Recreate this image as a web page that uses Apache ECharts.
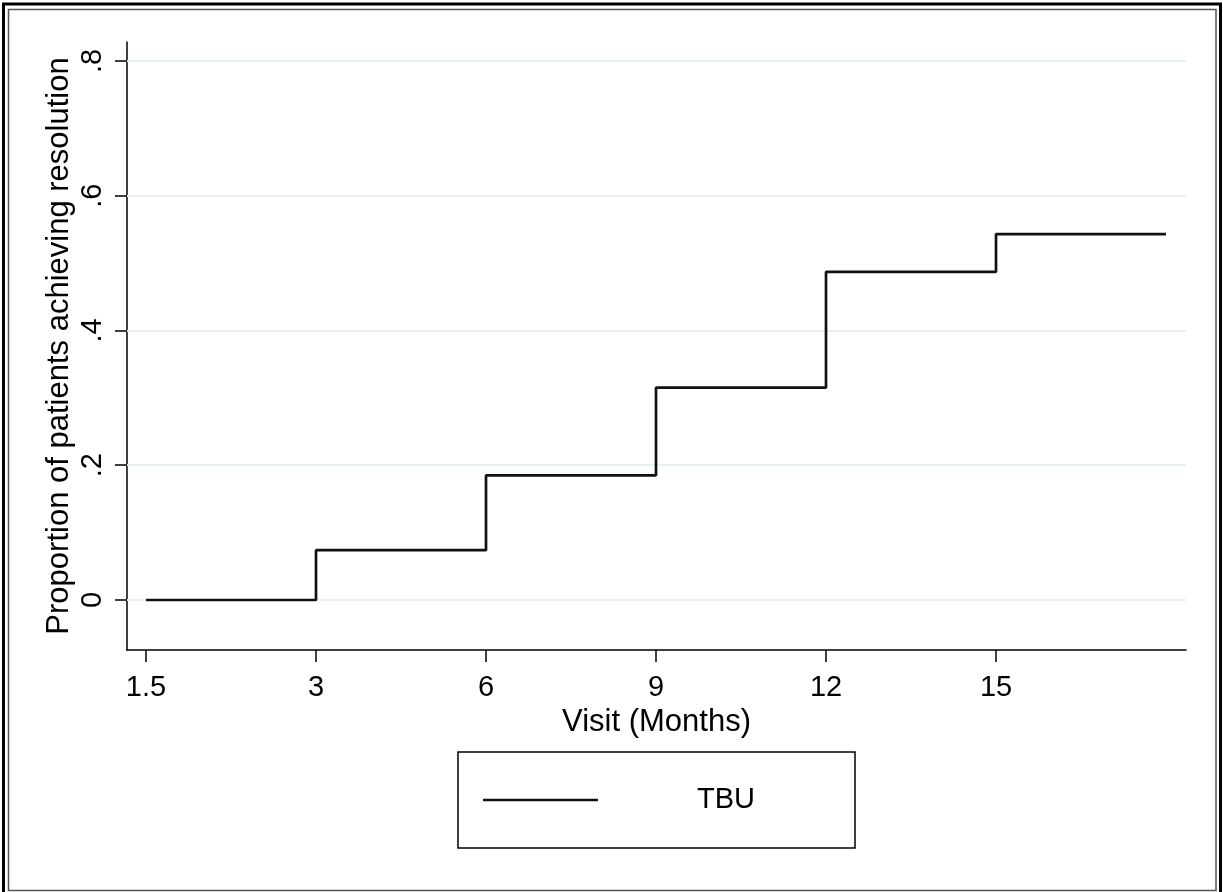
<!DOCTYPE html>
<html>
<head>
<meta charset="utf-8">
<title>Proportion of patients achieving resolution</title>
<script src="https://cdn.jsdelivr.net/npm/echarts@6/dist/echarts.min.js"></script>
<style>
  html, body { margin: 0; padding: 0; background: #fff; }
  #chart { width: 1223px; height: 892px; }
</style>
</head>
<body>
<div id="chart"></div>
<script>
// Visits are evenly spaced on the axis; each visit sits at its index position.
const visitLabels = ['1.5', '3', '6', '9', '12', '15'];
const visitIndex = [0, 1, 2, 3, 4, 5, 6];
// Cumulative proportion reaching resolution at each visit (last point closes the final step).
const proportion = [0, 0.074, 0.185, 0.315, 0.487, 0.543, 0.543];
const yTicks = [0, 0.2, 0.4, 0.6, 0.8];
const yTickLabels = ['0', '.2', '.4', '.6', '.8'];
const seriesName = 'TBU';

const FONT = "'Liberation Sans', Arial, sans-serif";
const chart = echarts.init(document.getElementById('chart'), null, { renderer: 'canvas' });

const stepData = visitIndex.map((x, i) => [x, proportion[i]]);

chart.setOption({
  backgroundColor: '#fff',
  animation: false,
  textStyle: { fontFamily: FONT, color: '#000' },
  grid: { left: 127, top: 42, right: 37, bottom: 242, containLabel: false },
  xAxis: {
    type: 'value',
    min: -0.1118,
    max: 6.1176,
    name: 'Visit (Months)',
    nameLocation: 'middle',
    nameGap: 52,
    nameTextStyle: { fontSize: 31, color: '#000', fontFamily: FONT },
    axisLine: { show: true, onZero: false, lineStyle: { color: '#000', width: 1.5 } },
    axisTick: { show: true, length: 12, customValues: visitLabels.map((_, i) => i), lineStyle: { color: '#000', width: 1.5 } },
    axisLabel: {
      show: true,
      customValues: visitLabels.map((_, i) => i),
      formatter: v => visitLabels[Math.round(v)],
      fontSize: 29,
      color: '#000',
      fontFamily: FONT,
      margin: 23
    },
    splitLine: { show: false }
  },
  yAxis: {
    type: 'value',
    min: -0.0742,
    max: 0.828,
    name: 'Proportion of patients achieving resolution',
    nameLocation: 'middle',
    nameRotate: 90,
    nameGap: 52,
    nameMoveOverlap: false,
    nameTextStyle: { fontSize: 31, color: '#000', fontFamily: FONT },
    axisLine: { show: true, onZero: false, lineStyle: { color: '#000', width: 1.5 } },
    axisTick: { show: true, length: 12, customValues: yTicks, lineStyle: { color: '#000', width: 1.5 } },
    axisLabel: {
      show: true,
      customValues: yTicks,
      rotate: 90,
      formatter: v => {
        const k = yTicks.findIndex(t => Math.abs(t - v) < 1e-6);
        return k >= 0 ? yTickLabels[k] : '';
      },
      fontSize: 29,
      color: '#000',
      fontFamily: FONT,
      margin: 20
    },
    splitLine: { show: false }
  },
  legend: {
    data: [{ name: seriesName, icon: 'rect' }],
    left: 458,
    top: 752,
    orient: 'horizontal',
    padding: [33, 100, 33, 25],
    borderColor: '#000',
    borderWidth: 1.5,
    itemWidth: 115,
    itemHeight: 2.5,
    itemStyle: { color: '#111' },
    textStyle: { fontSize: 29, color: '#000', fontFamily: FONT, padding: [0, 0, 0, 94], lineHeight: 30 }
  },
  series: [
    {
      name: 'gridlines',
      type: 'line',
      data: [],
      silent: true,
      z: 1,
      markLine: {
        silent: true,
        z: 1,
        symbol: 'none',
        label: { show: false },
        lineStyle: { color: '#e8f0f2', width: 2, type: 'solid' },
        data: yTicks.map(t => ({ yAxis: t }))
      }
    },
    {
      name: seriesName,
      type: 'line',
      step: 'end',
      data: stepData,
      symbol: 'none',
      showSymbol: false,
      z: 8,
      lineStyle: { color: '#111', width: 2.7 },
      itemStyle: { color: '#111' }
    }
  ],
  graphic: [
    {
      type: 'rect',
      silent: true,
      shape: { x: 3.5, y: 4, width: 1217, height: 900 },
      style: { fill: null, stroke: '#000', lineWidth: 3 }
    },
    {
      type: 'rect',
      silent: true,
      shape: { x: 8.5, y: 9.5, width: 1207.5, height: 881 },
      style: { fill: null, stroke: '#555', lineWidth: 1.5 }
    }
  ]
});
</script>
</body>
</html>
